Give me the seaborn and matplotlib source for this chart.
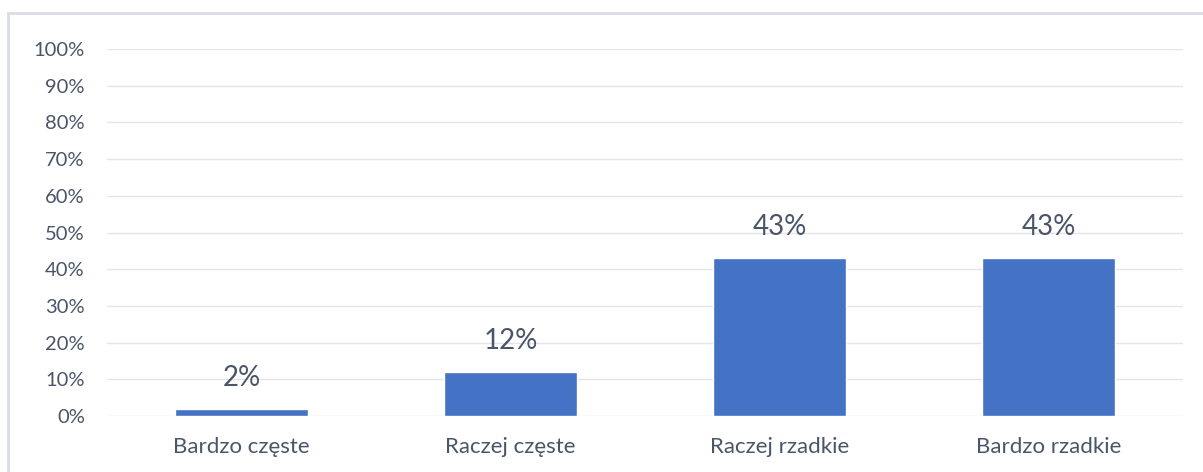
import matplotlib
matplotlib.use("Agg")
import matplotlib.pyplot as plt
import seaborn as sns
import pandas as pd
from matplotlib.patches import Rectangle

kategorie = ['Bardzo częste', 'Raczej częste', 'Raczej rzadkie', 'Bardzo rzadkie']
procenty = [2, 12, 43, 43]
etykiety_y = [0, 10, 20, 30, 40, 50, 60, 70, 80, 90, 100]

sns.set_theme(style='white')
plt.rcParams['font.family'] = ['Lato', 'DejaVu Sans']

df = pd.DataFrame({'kategoria': kategorie, 'procent': procenty})

fig = plt.figure(figsize=(12.03, 4.72), dpi=100)
W, H = 1203, 472
# ramka wykresu (jak w Excelu)
fig.patches.append(Rectangle((8 / W, -0.05), 1.1, (472 - 13) / H + 0.05,
                             transform=fig.transFigure, fill=False,
                             edgecolor='#D9DDE3', linewidth=2))

ax = fig.add_axes([107 / W, 56 / H, (1183 - 107) / W, (416 - 49) / H])
sns.barplot(data=df, x='kategoria', y='procent', color='#4472C4',
            width=0.495, saturation=1, ax=ax)

ax.set_ylim(0, 100)
ax.set_yticks(etykiety_y)
ax.set_yticklabels([f'{v}%' for v in etykiety_y])
ax.yaxis.grid(True, color='#E3E5EA', linewidth=1)
ax.set_axisbelow(True)
for s in ax.spines.values():
    s.set_visible(False)
ax.set_xlabel('')
ax.set_ylabel('')
ax.tick_params(axis='y', length=0, pad=16, labelsize=14.5, labelcolor='#4A5568')
ax.tick_params(axis='x', length=0, pad=15, labelsize=16, labelcolor='#4A5568')

ax.bar_label(ax.containers[0], labels=[f'{v}%' for v in procenty],
             padding=13, fontsize=20, color='#4A5568')

fig.savefig('out.png', dpi=100)
